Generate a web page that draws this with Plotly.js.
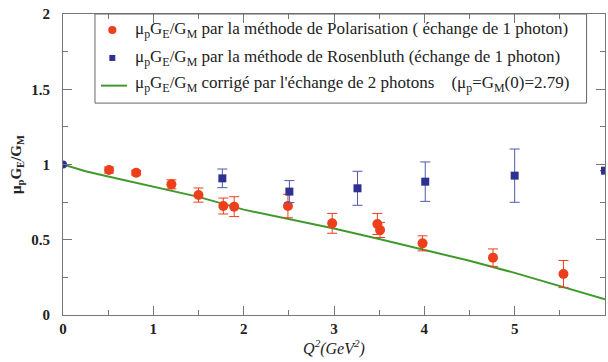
<!DOCTYPE html>
<html><head><meta charset="utf-8">
<script src="https://cdn.plot.ly/plotly-3.0.1.min.js"></script>
<style>html,body{margin:0;padding:0;background:#fff;}</style>
</head><body>
<div id="chart" style="width:608px;height:362px;"></div>
<script>
// Polarisation method (red circles)
const polQ2 = [0.51, 0.81, 1.2, 1.5, 1.775, 1.895, 2.49, 2.98, 3.48, 3.51, 3.98, 4.76, 5.54];
const polRatio = [0.963, 0.945, 0.868, 0.797, 0.724, 0.72, 0.724, 0.609, 0.605, 0.565, 0.476, 0.381, 0.272];
const polErr = [0.02, 0.015, 0.03, 0.047, 0.053, 0.066, 0.078, 0.066, 0.07, 0.05, 0.05, 0.058, 0.09];
// Rosenbluth method (blue squares)
const rosQ2 = [0, 1.764, 2.506, 3.26, 4.01, 5.0, 6.0];
const rosRatio = [1.0, 0.908, 0.82, 0.842, 0.886, 0.926, 0.959];
const rosErr = [0, 0.062, 0.073, 0.113, 0.131, 0.177, 0];
// Two-photon corrected curve (green)
const corrQ2 = [0, 0.25, 0.5, 1, 1.5, 2, 2.5, 3, 3.5, 4, 4.5, 5, 5.5, 6];
const corrRatio = [1.0, 0.955, 0.92, 0.85, 0.785, 0.70, 0.64, 0.575, 0.505, 0.432, 0.36, 0.28, 0.19, 0.105];

const legendLabels = [
  "μ<sub>p</sub>G<sub>E</sub>/G<sub>M</sub> par la méthode de Polarisation ( échange de 1 photon)",
  "μ<sub>p</sub>G<sub>E</sub>/G<sub>M</sub> par la méthode de Rosenbluth (échange de 1 photon)",
  "μ<sub>p</sub>G<sub>E</sub>/G<sub>M</sub> corrigé par l'échange de 2 photons\u00a0\u00a0\u00a0\u00a0(μ<sub>p</sub>=G<sub>M</sub>(0)=2.79)"
];

const RED = '#ee3f1c', BLUE = '#2e3192', GREEN = '#3f9a2c';
const serif = 'Liberation Serif';

const traces = [
  {x: corrQ2, y: corrRatio, mode: 'lines', line: {color: GREEN, width: 2}, showlegend: false},
  {x: polQ2, y: polRatio, mode: 'markers', marker: {color: RED, size: 10, symbol: 'circle'},
   error_y: {type: 'data', array: polErr, visible: true, color: RED, thickness: 1, width: 5}, showlegend: false},
  {x: rosQ2, y: rosRatio, mode: 'markers',
   marker: {color: BLUE, size: 8, symbol: rosQ2.map((q, i) => i === 0 ? 'circle' : 'square')},
   error_y: {type: 'data', array: rosErr, visible: true, color: '#5257ac', thickness: 1, width: 5}, showlegend: false}
];

const axisCommon = {
  showline: true, linecolor: '#777', linewidth: 1, mirror: 'ticks',
  ticks: 'inside', ticklen: 9, tickcolor: '#777', tickwidth: 1,
  showgrid: false, zeroline: false,
  tickfont: {family: serif, size: 15, color: '#222', weight: 'bold'}
};

const rowsY = [0.947, 0.854, 0.767];
const shapes = [
  {type: 'rect', xref: 'paper', yref: 'paper', x0: 0.059, x1: 0.966, y0: 0.704, y1: 1.0,
   line: {color: '#666', width: 1}, fillcolor: 'rgba(0,0,0,0)'},
  {type: 'circle', xref: 'paper', yref: 'paper', x0: 0.0835, x1: 0.0985, y0: rowsY[0] - 0.0135, y1: rowsY[0] + 0.0135,
   line: {color: RED, width: 0}, fillcolor: RED},
  {type: 'rect', xref: 'paper', yref: 'paper', x0: 0.0855, x1: 0.0965, y0: rowsY[1] - 0.01, y1: rowsY[1] + 0.01,
   line: {color: BLUE, width: 0}, fillcolor: BLUE},
  {type: 'line', xref: 'paper', yref: 'paper', x0: 0.07, x1: 0.118, y0: rowsY[2] - 0.005, y1: rowsY[2] - 0.005,
   line: {color: GREEN, width: 2}}
];
const annotations = legendLabels.map((t, i) => ({
  text: t, xref: 'paper', yref: 'paper', x: 0.129, y: rowsY[i], xanchor: 'left', yanchor: 'middle',
  showarrow: false, font: {family: serif, size: 17, color: '#222'}
}));

const layout = {
  width: 608, height: 362,
  margin: {l: 63, r: 3, t: 14, b: 47},
  paper_bgcolor: '#fff', plot_bgcolor: '#fff',
  font: {family: serif},
  xaxis: Object.assign({}, axisCommon, {range: [0, 6], dtick: 1, tick0: 0,
    minor: {dtick: 0.5, ticks: 'inside', ticklen: 5, tickcolor: '#777'},
    title: {text: '<i>Q<sup>2</sup>(GeV<sup>2</sup>)</i>', font: {family: serif, size: 16, color: '#222'}, standoff: 4}}),
  yaxis: Object.assign({}, axisCommon, {range: [0, 2], dtick: 0.5, tick0: 0, ticklabelstandoff: 9,
    minor: {dtick: 0.25, ticks: 'inside', ticklen: 5, tickcolor: '#777'},
    title: {text: 'μ<sub>p</sub>G<sub>E</sub>/G<sub>M</sub>', font: {family: serif, size: 15, color: '#222', weight: 'bold'}, standoff: 6}}),
  shapes: shapes, annotations: annotations
};

Plotly.newPlot('chart', traces, layout, {staticPlot: true, displayModeBar: false});
</script>
</body></html>
